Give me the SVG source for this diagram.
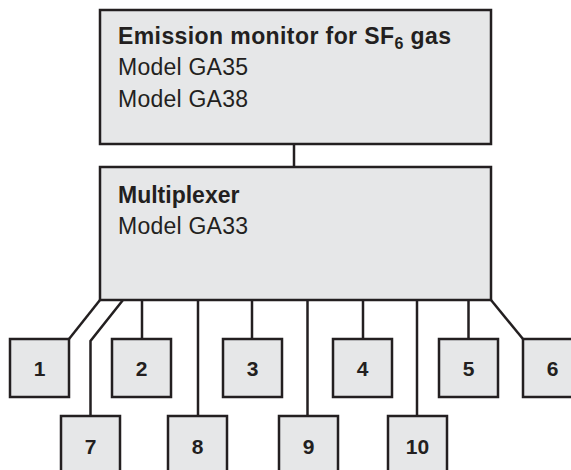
<svg xmlns="http://www.w3.org/2000/svg" width="571" height="470" viewBox="0 0 571 470">
<style>
.box{fill:#e6e7e8;stroke:#231f20;stroke-width:2.5}
.ln{fill:none;stroke:#231f20;stroke-width:2.5}
text{font-family:"Liberation Sans",Arial,Helvetica,sans-serif;fill:#231f20}
.t{font-size:23px}
.b{font-weight:bold}
.n{font-size:21px;font-weight:bold;text-anchor:middle}
</style>
<rect width="571" height="470" fill="#ffffff"/>
<g id="connectors">
<line class="ln" x1="294" y1="144" x2="294" y2="167"/>
<polyline class="ln" points="100,300 69,339"/>
<polyline class="ln" points="123,300 90.5,341 90.5,416"/>
<line class="ln" x1="142" y1="300" x2="142" y2="339"/>
<line class="ln" x1="198" y1="300" x2="198" y2="416"/>
<line class="ln" x1="252" y1="300" x2="252" y2="339"/>
<line class="ln" x1="307.5" y1="300" x2="307.5" y2="416"/>
<line class="ln" x1="363" y1="300" x2="363" y2="339"/>
<line class="ln" x1="417" y1="300" x2="417" y2="416"/>
<line class="ln" x1="468.5" y1="300" x2="468.5" y2="339"/>
<polyline class="ln" points="491,300 523,339"/>
</g>
<g id="monitor">
<rect class="box" x="100" y="10" width="391" height="134"/>
<text class="t b" x="118" y="43.5" textLength="333">Emission monitor for SF<tspan font-size="16" dy="5">6</tspan><tspan dy="-5"> gas</tspan></text>
<text class="t" x="118" y="75" textLength="130">Model GA35</text>
<text class="t" x="118" y="107" textLength="130">Model GA38</text>
</g>
<g id="multiplexer">
<rect class="box" x="100" y="167" width="391" height="133"/>
<text class="t b" x="118" y="202.5">Multiplexer</text>
<text class="t" x="118" y="233.5" textLength="130">Model GA33</text>
</g>
<g id="n1"><rect class="box" x="10" y="339" width="59" height="58"/><text class="n" x="39.5" y="376">1</text></g>
<g id="n2"><rect class="box" x="112" y="339" width="59" height="58"/><text class="n" x="141.5" y="376">2</text></g>
<g id="n3"><rect class="box" x="223" y="339" width="59" height="58"/><text class="n" x="252.5" y="376">3</text></g>
<g id="n4"><rect class="box" x="333" y="339" width="59" height="58"/><text class="n" x="362.5" y="376">4</text></g>
<g id="n5"><rect class="box" x="439" y="339" width="59" height="58"/><text class="n" x="468.5" y="376">5</text></g>
<g id="n6"><rect class="box" x="523" y="339" width="59" height="58"/><text class="n" x="552.5" y="376">6</text></g>
<g id="n7"><rect class="box" x="61" y="416" width="59" height="58"/><text class="n" x="90.5" y="454">7</text></g>
<g id="n8"><rect class="box" x="168" y="416" width="59" height="58"/><text class="n" x="197.5" y="454">8</text></g>
<g id="n9"><rect class="box" x="279" y="416" width="59" height="58"/><text class="n" x="308.5" y="454">9</text></g>
<g id="n10"><rect class="box" x="388" y="416" width="59" height="58"/><text class="n" x="417.5" y="454">10</text></g>
</svg>
